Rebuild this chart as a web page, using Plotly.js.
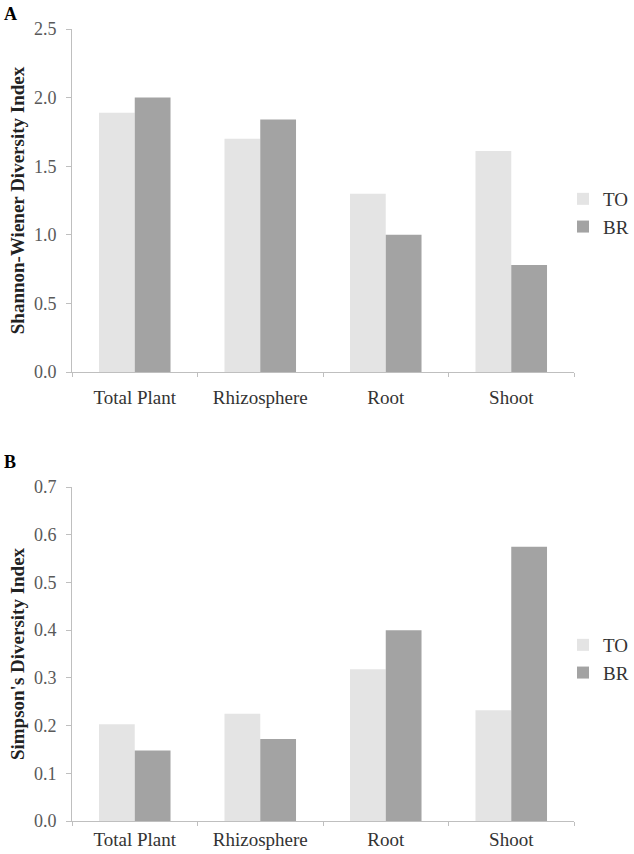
<!DOCTYPE html>
<html>
<head>
<meta charset="utf-8">
<script src="https://cdn.plot.ly/plotly-3.0.1.min.js"></script>
<style>
  html, body { margin: 0; padding: 0; background: #fff; }
  #chart { width: 634px; height: 854px; }
</style>
</head>
<body>
<div id="chart"></div>
<script>
// Categorías y valores
const categories = ['Total Plant', 'Rhizosphere', 'Root', 'Shoot'];
const shannonTO = [1.89, 1.70, 1.30, 1.61];
const shannonBR = [2.00, 1.84, 1.00, 0.78];
const simpsonTO = [0.203, 0.225, 0.318, 0.232];
const simpsonBR = [0.148, 0.172, 0.400, 0.575];

const colorTO = '#e4e4e4';
const colorBR = '#a3a3a3';
const serif = 'Liberation Serif, Times New Roman, serif';

function barTrace(name, y, color, xa, ya, legend) {
  return {
    type: 'bar',
    name: name,
    x: categories,
    y: y,
    xaxis: xa,
    yaxis: ya,
    legend: legend,
    legendgroup: name + legend,
    marker: { color: color, line: { width: 0 } },
    hoverinfo: 'x+y'
  };
}

const data = [
  barTrace('TO', shannonTO, colorTO, 'x', 'y', 'legend'),
  barTrace('BR', shannonBR, colorBR, 'x', 'y', 'legend'),
  barTrace('TO', simpsonTO, colorTO, 'x2', 'y2', 'legend2'),
  barTrace('BR', simpsonBR, colorBR, 'x2', 'y2', 'legend2')
];

const xBase = {
  domain: [72 / 634, 574 / 634],
  showline: true,
  linecolor: '#bfbfbf',
  linewidth: 1,
  ticks: 'outside',
  tickson: 'boundaries',
  ticklen: 4,
  tickcolor: '#bfbfbf',
  showgrid: false,
  zeroline: false,
  tickfont: { family: serif, size: 19, color: '#333' },
  fixedrange: true
};

const yBase = {
  showline: true,
  linecolor: '#bfbfbf',
  linewidth: 1,
  ticks: 'outside',
  ticklen: 5,
  tickcolor: '#bfbfbf',
  showgrid: false,
  zeroline: false,
  tickformat: '.1f',
  ticklabelstandoff: 6,
  tickfont: { family: serif, size: 18, color: '#595959' },
  fixedrange: true
};

// leyenda anclada a la derecha para que no empuje el margen
const legendBase = {
  x: 1,
  xanchor: 'right',
  yanchor: 'middle',
  bgcolor: 'rgba(0,0,0,0)',
  font: { family: serif, size: 19, color: '#333' },
  tracegroupgap: 10,
  traceorder: 'normal'
};

const layout = {
  width: 634,
  height: 854,
  margin: { l: 0, r: 0, t: 0, b: 0 },
  paper_bgcolor: '#fff',
  plot_bgcolor: '#fff',
  barmode: 'group',
  bargap: 0.43,
  bargroupgap: 0,
  xaxis: Object.assign({}, xBase, { anchor: 'y', ticklabelstandoff: 8 }),
  xaxis2: Object.assign({}, xBase, { anchor: 'y2', ticklabelstandoff: 1 }),
  yaxis: Object.assign({}, yBase, {
    anchor: 'x',
    domain: [1 - 372 / 854, 1 - 29 / 854],
    range: [0, 2.5],
    dtick: 0.5,
    title: { text: '<b>Shannon-Wiener Diversity Index</b>', font: { family: serif, size: 19, color: '#222' } }
  }),
  yaxis2: Object.assign({}, yBase, {
    anchor: 'x2',
    domain: [1 - 821 / 854, 1 - 487 / 854],
    range: [0, 0.7],
    dtick: 0.1,
    title: { text: "<b>Simpson's Diversity Index</b>", font: { family: serif, size: 19, color: '#222' } }
  }),
  legend: Object.assign({}, legendBase, { y: 1 - 213 / 854 }),
  legend2: Object.assign({}, legendBase, { y: 1 - 659 / 854 }),
  annotations: [
    { text: '<b>A</b>', x: 2 / 634, y: 1 - 2 / 854, xref: 'paper', yref: 'paper',
      xanchor: 'left', yanchor: 'top', showarrow: false, font: { family: serif, size: 18, color: '#000' } },
    { text: '<b>B</b>', x: 2 / 634, y: 1 - 450 / 854, xref: 'paper', yref: 'paper',
      xanchor: 'left', yanchor: 'top', showarrow: false, font: { family: serif, size: 18, color: '#000' } }
  ]
};

Plotly.newPlot('chart', data, layout, { displayModeBar: false, staticPlot: true });
</script>
</body>
</html>
